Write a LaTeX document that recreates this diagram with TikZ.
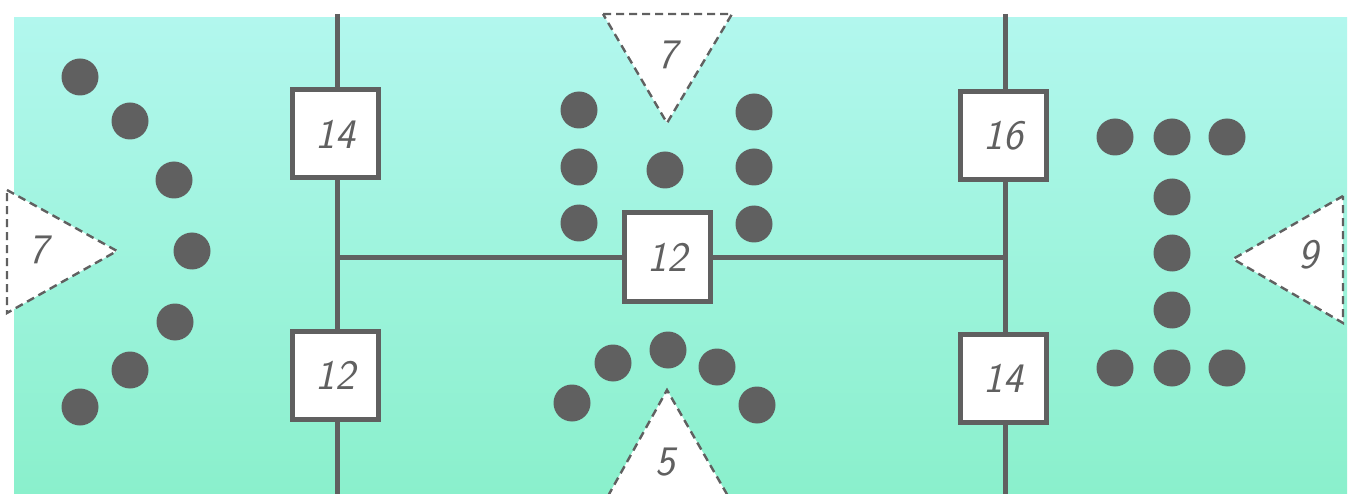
\documentclass[tikz,border=0pt]{standalone}
\definecolor{ink}{RGB}{96,96,96}
\definecolor{bgtop}{RGB}{178,247,238}
\definecolor{bgbot}{RGB}{138,240,204}
\tikzset{
  numbox/.style={draw=ink, line width=5pt, fill=white, minimum width=86pt, minimum height=88pt, inner sep=0pt, font=\fontsize{42}{42}\selectfont\sffamily\slshape, text=ink},
  wire/.style={draw=ink, line width=5pt},
  dot/.style={fill=ink},
  tri/.style={draw=ink, fill=white, line width=2.4pt, dash pattern=on 8pt off 5pt},
  trilabel/.style={font=\fontsize{42}{42}\selectfont\sffamily\slshape, text=ink}
}
\begin{document}
\begin{tikzpicture}[x=1pt,y=-1pt]
\useasboundingbox (0,0) rectangle (1356,494);
\fill[white] (0,0) rectangle (1356,494);
\shade[top color=bgtop, bottom color=bgbot] (14,18) rectangle (1347,494);
% boxes
\node[numbox] (b14) at (335,134) {14};
\node[numbox] (b12) at (335,375) {12};
\node[numbox] (c12) at (667,257) {12};
\node[numbox] (d16) at (1003,136) {16};
\node[numbox] (d14) at (1003,378) {14};
% coordinates
\coordinate (ltop) at (337,14);
\coordinate (lbot) at (337,494);
\coordinate (ljn) at (337,257);
\coordinate (rtop) at (1005,14);
\coordinate (rbot) at (1005,494);
\coordinate (rjn) at (1005,257);
% wires
\draw[wire] (ltop) -- (b14.north -| ltop);
\draw[wire] (b14.south -| ltop) -- (b12.north -| ltop);
\draw[wire] (b12.south -| lbot) -- (lbot);
\draw[wire] (rtop) -- (d16.north -| rtop);
\draw[wire] (d16.south -| rtop) -- (d14.north -| rtop);
\draw[wire] (d14.south -| rbot) -- (rbot);
\draw[wire] (ljn) -- (c12.west);
\draw[wire] (c12.east) -- (rjn);
% redraw boxes on top of the wires
\node[numbox] at (b14) {14};
\node[numbox] at (b12) {12};
\node[numbox] at (c12) {12};
\node[numbox] at (d16) {16};
\node[numbox] at (d14) {14};
% triangles
\draw[tri] (7,190) -- (117,251) -- (7,313) -- cycle;
\node[trilabel] (tl) at (38,250) {7};
\draw[tri] (603,14) -- (732,14) -- (667,123) -- cycle;
\node[trilabel] (tt) at (667,55) {7};
\draw[tri] (608,496) -- (667,390) -- (728,496);
\node[trilabel] (tb) at (665,462) {5};
\draw[tri] (1343,196) -- (1233,259) -- (1343,323) -- cycle;
\node[trilabel] (tr) at (1308,255) {9};
% dots left
\foreach \p in {(80,77),(130,121),(174,180),(192,251),(175,322),(130,370),(80,407)}
  \fill[dot] \p circle (18.5pt);
% dots center top
\foreach \p in {(579,110),(579,167),(579,223),(665,170),(754,112),(754,167),(754,224)}
  \fill[dot] \p circle (18.5pt);
% dots center bottom
\foreach \p in {(572,403),(613,363),(668,350),(717,367),(757,405)}
  \fill[dot] \p circle (18.5pt);
% dots right
\foreach \p in {(1115,137),(1172,137),(1227,137),(1172,197),(1172,253),(1172,310),(1115,368),(1172,368),(1227,368)}
  \fill[dot] \p circle (18.5pt);
\end{tikzpicture}
\end{document}
